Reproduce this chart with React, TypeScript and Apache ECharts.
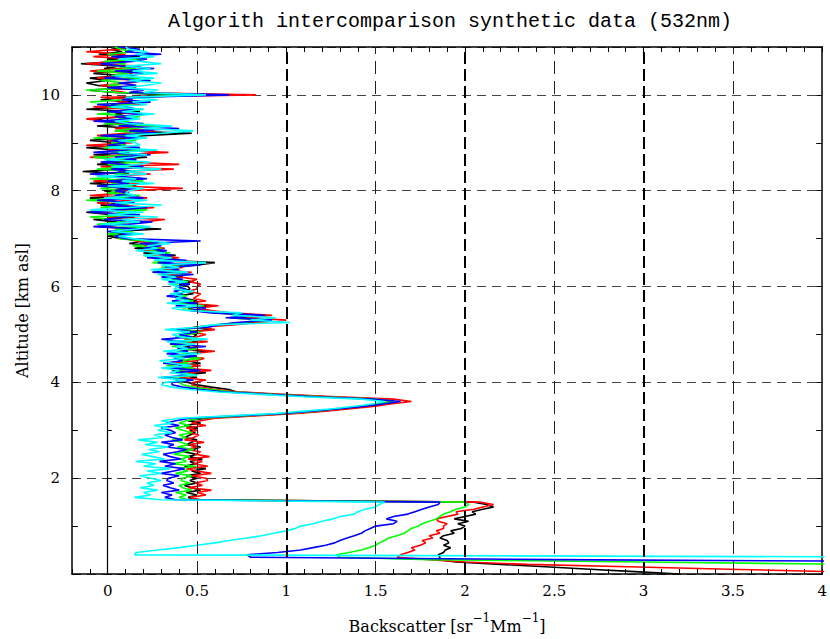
import { useEffect, useRef } from "react";
import * as echarts from "echarts";

const TITLE = "Algorith intercomparison synthetic data (532nm)";
const X_NAME_PARTS = ["Backscatter [sr", "−1", "Mm", "−1", "]"];
const Y_NAME = "Altitude [km asl]";
const X_TICK_LABELS = [0, 0.5, 1, 1.5, 2, 2.5, 3, 3.5, 4];
const Y_TICK_LABELS = [2, 4, 6, 8, 10];
const X_GRID_MAJOR = [1, 2, 3];
const X_GRID_MINOR = [0.5, 1.5, 2.5, 3.5];

// altitude bins (km)
const ALT = [
  0, 0.05, 0.1, 0.15, 0.2, 0.25, 0.3, 0.35, 0.4, 0.45, 0.5, 0.55, 0.6, 0.65, 0.7, 0.75, 0.8, 0.85, 0.9, 0.95,
  1, 1.05, 1.1, 1.15, 1.2, 1.25, 1.3, 1.35, 1.4, 1.45, 1.5, 1.55, 1.6, 1.65, 1.7, 1.75, 1.8, 1.85, 1.9, 1.95,
  2, 2.05, 2.1, 2.15, 2.2, 2.25, 2.3, 2.35, 2.4, 2.45, 2.5, 2.55, 2.6, 2.65, 2.7, 2.75, 2.8, 2.85, 2.9, 2.95,
  3, 3.05, 3.1, 3.15, 3.2, 3.25, 3.3, 3.35, 3.4, 3.45, 3.5, 3.55, 3.6, 3.65, 3.7, 3.75, 3.8, 3.85, 3.9, 3.95,
  4, 4.05, 4.1, 4.15, 4.2, 4.25, 4.3, 4.35, 4.4, 4.45, 4.5, 4.55, 4.6, 4.65, 4.7, 4.75, 4.8, 4.85, 4.9, 4.95,
  5, 5.05, 5.1, 5.15, 5.2, 5.25, 5.3, 5.35, 5.4, 5.45, 5.5, 5.55, 5.6, 5.65, 5.7, 5.75, 5.8, 5.85, 5.9, 5.95,
  6, 6.05, 6.1, 6.15, 6.2, 6.25, 6.3, 6.35, 6.4, 6.45, 6.5, 6.55, 6.6, 6.65, 6.7, 6.75, 6.8, 6.85, 6.9, 6.95,
  7, 7.05, 7.1, 7.15, 7.2, 7.25, 7.3, 7.35, 7.4, 7.45, 7.5, 7.55, 7.6, 7.65, 7.7, 7.75, 7.8, 7.85, 7.9, 7.95,
  8, 8.05, 8.1, 8.15, 8.2, 8.25, 8.3, 8.35, 8.4, 8.45, 8.5, 8.55, 8.6, 8.65, 8.7, 8.75, 8.8, 8.85, 8.9, 8.95,
  9, 9.05, 9.1, 9.15, 9.2, 9.25, 9.3, 9.35, 9.4, 9.45, 9.5, 9.55, 9.6, 9.65, 9.7, 9.75, 9.8, 9.85, 9.9, 9.95,
  10, 10.05, 10.1, 10.15, 10.2, 10.25, 10.3, 10.35, 10.4, 10.45, 10.5, 10.55, 10.6, 10.65, 10.7, 10.75, 10.8, 10.85, 10.9, 10.95, 11,
];

const BLACK = [
  3.2, 2.95, 2.7, 2.45, 2.2, 1.95, 1.85, 1.86, 1.85, 1.88, 1.89, 1.92, 1.88, 1.91, 1.9, 1.86, 1.88, 1.94, 1.92, 1.98,
  2.0, 1.96, 2.02, 1.94, 2.0, 2.06, 2.04, 2.1, 2.16, 2.12, 2.05, 0.48, 0.45, 0.5, 0.44, 0.52, 0.47, 0.43, 0.5, 0.46,
  0.5, 0.44, 0.52, 0.47, 0.55, 0.43, 0.49, 0.46, 0.53, 0.45, 0.5, 0.42, 0.48, 0.52, 0.44, 0.47, 0.5, 0.43, 0.46, 0.49,
  0.46, 0.5, 0.43, 0.52, 0.45, 0.55, 0.78, 1.02, 1.18, 1.32, 1.44, 1.52, 1.6, 1.5, 1.22, 0.95, 0.72, 0.68, 0.58, 0.5,
  0.45, 0.38, 0.5, 0.42, 0.55, 0.36, 0.47, 0.4, 0.52, 0.44, 0.38, 0.49, 0.43, 0.56, 0.4, 0.46, 0.35, 0.5, 0.44, 0.48,
  0.5, 0.42, 0.58, 0.48, 0.62, 0.8, 0.9, 0.72, 0.85, 0.6, 0.54, 0.45, 0.58, 0.4, 0.5, 0.44, 0.38, 0.48, 0.42, 0.46,
  0.45, 0.4, 0.48, 0.36, 0.42, 0.3, 0.44, 0.28, 0.38, 0.5, 0.6, 0.32, 0.26, 0.38, 0.2, 0.3, 0.15, 0.28, 0.12, 0.2,
  0.08, 0.0, 0.1, 0.02, 0.3, -0.05, 0.12, 0.04, -0.08, 0.15, 0.02, -0.12, 0.08, 0.18, -0.04, 0.1, 0.0, -0.1, 0.14, 0.05,
  -0.02, 0.1, 0.16, -0.1, 0.06, 0.2, 0.0, 0.12, -0.14, 0.08, 0.18, -0.06, 0.1, 0.0, 0.22, -0.08, 0.12, 0.04, -0.12, 0.1,
  0.06, -0.1, 0.12, 0.2, 0.47, 0.04, 0.16, -0.06, 0.1, 0.0, -0.08, 0.12, 0.04, 0.18, -0.12, 0.08, 0.02, 0.14, -0.04, 0.1,
  0.35, 0.04, -0.1, 0.12, -0.06, -0.12, 0.0, -0.1, 0.08, -0.08, 0.14, -0.02, 0.06, -0.15, 0.1, 0.0, 0.18, -0.05, 0.08, 0.02, 0.1,
];

const RED = [
  4.6, 4.05, 3.48, 2.91, 2.35, 2.0, 1.8, 1.62, 1.64, 1.68, 1.72, 1.7, 1.75, 1.78, 1.76, 1.82, 1.8, 1.86, 1.84, 1.88,
  1.88, 1.9, 1.85, 1.84, 1.9, 1.96, 1.95, 2.05, 2.1, 2.16, 2.08, 0.52, 0.46, 0.55, 0.5, 0.58, 0.45, 0.53, 0.49, 0.56,
  0.55, 0.47, 0.58, 0.5, 0.44, 0.56, 0.48, 0.53, 0.45, 0.57, 0.49, 0.52, 0.44, 0.5, 0.46, 0.54, 0.43, 0.48, 0.51, 0.45,
  0.5, 0.44, 0.55, 0.47, 0.52, 0.6, 0.82, 1.06, 1.22, 1.36, 1.5, 1.58, 1.7, 1.6, 1.28, 0.98, 0.74, 0.6, 0.52, 0.47,
  0.48, 0.55, 0.4, 0.5, 0.45, 0.58, 0.42, 0.52, 0.37, 0.49, 0.54, 0.41, 0.47, 0.6, 0.44, 0.51, 0.39, 0.56, 0.43, 0.5,
  0.55, 0.46, 0.6, 0.52, 0.7, 0.84, 1.0, 0.78, 0.92, 0.68, 0.58, 0.5, 0.62, 0.44, 0.55, 0.48, 0.5, 0.52, 0.45, 0.5,
  0.5, 0.52, 0.46, 0.5, 0.4, 0.35, 0.47, 0.3, 0.42, 0.36, 0.5, 0.28, 0.4, 0.22, 0.34, 0.18, 0.32, 0.2, 0.26, 0.16,
  0.12, 0.04, 0.16, 0.06, 0.1, -0.02, 0.08, 0.2, 0.32, 0.0, 0.14, -0.08, 0.1, 0.26, 0.03, -0.06, 0.12, 0.22, -0.1, 0.08,
  0.1, 0.42, 0.04, 0.18, -0.08, 0.12, 0.02, 0.24, 0.06, 0.37, -0.04, 0.4, 0.1, 0.16, -0.1, 0.08, 0.34, 0.0, 0.14, -0.12,
  0.14, 0.0, 0.2, -0.06, 0.1, 0.26, 0.04, 0.16, 0.08, -0.02, -0.12, 0.1, 0.18, 0.02, 0.12, -0.08, 0.2, 0.06, 0.14, -0.04,
  0.83, 0.1, 0.02, 0.16, -0.04, 0.12, 0.2, -0.06, 0.08, 0.14, -0.1, 0.06, 0.18, -0.12, 0.04, 0.16, -0.08, 0.1, -0.12, 0.06, 0.12,
];

const GREEN = [
  8, 7, 6, 5, 4.2, 3.0, 1.8, 1.3, 1.28, 1.35, 1.42, 1.46, 1.5, 1.52, 1.55, 1.57, 1.62, 1.66, 1.68, 1.7,
  1.74, 1.76, 1.8, 1.84, 1.86, 1.88, 1.92, 1.95, 2.0, 2.02, 2.0, 0.45, 0.4, 0.44, 0.38, 0.47, 0.42, 0.4, 0.46, 0.41,
  0.42, 0.47, 0.38, 0.45, 0.4, 0.49, 0.36, 0.44, 0.41, 0.46, 0.37, 0.43, 0.48, 0.39, 0.45, 0.41, 0.36, 0.44, 0.4, 0.47,
  0.42, 0.38, 0.46, 0.4, 0.44, 0.52, 0.76, 1.0, 1.16, 1.3, 1.42, 1.52, 1.6, 1.5, 1.2, 0.92, 0.7, 0.58, 0.48, 0.42,
  0.4, 0.46, 0.35, 0.5, 0.42, 0.38, 0.48, 0.33, 0.45, 0.4, 0.52, 0.37, 0.44, 0.39, 0.5, 0.36, 0.46, 0.41, 0.53, 0.38,
  0.45, 0.52, 0.4, 0.55, 0.6, 0.76, 0.86, 0.68, 0.8, 0.62, 0.5, 0.42, 0.54, 0.38, 0.48, 0.4, 0.44, 0.38, 0.46, 0.4,
  0.42, 0.36, 0.45, 0.38, 0.33, 0.44, 0.28, 0.4, 0.3, 0.46, 0.25, 0.38, 0.3, 0.2, 0.35, 0.24, 0.3, 0.14, 0.28, 0.22,
  0.06, 0.1, 0.0, 0.14, 0.04, 0.2, -0.06, 0.1, 0.02, -0.1, 0.16, 0.05, 0.22, -0.04, 0.08, 0.14, -0.12, 0.06, 0.18, 0.0,
  0.08, -0.04, 0.14, 0.02, 0.2, -0.1, 0.1, 0.04, 0.16, -0.06, 0.12, 0.0, 0.18, 0.06, -0.08, 0.14, 0.02, 0.2, -0.02, 0.1,
  0.02, 0.16, -0.08, 0.1, 0.22, 0.04, 0.14, 0.3, -0.02, 0.12, 0.06, 0.18, -0.06, 0.1, 0.2, 0.0, 0.14, -0.1, 0.08, 0.16,
  0.5, 0.06, -0.12, 0.14, 0.0, 0.1, -0.04, 0.18, 0.02, 0.12, -0.06, 0.16, 0.04, 0.1, -0.02, 0.2, 0.06, 0.0, 0.14, 0.08, 0.04,
];

const BLUE = [
  10, 9, 8, 7, 6, 5, 2.5, 0.8, 0.78, 0.95, 1.08, 1.15, 1.22, 1.27, 1.3, 1.34, 1.38, 1.42, 1.44, 1.47,
  1.5, 1.6, 1.62, 1.56, 1.6, 1.68, 1.72, 1.76, 1.8, 1.85, 1.86, 0.38, 0.32, 0.36, 0.3, 0.4, 0.35, 0.31, 0.37, 0.33,
  0.34, 0.4, 0.3, 0.37, 0.43, 0.32, 0.38, 0.29, 0.41, 0.35, 0.31, 0.39, 0.44, 0.33, 0.37, 0.3, 0.42, 0.36, 0.32, 0.38,
  0.35, 0.3, 0.4, 0.33, 0.38, 0.46, 0.72, 0.98, 1.14, 1.3, 1.44, 1.54, 1.64, 1.48, 1.16, 0.9, 0.66, 0.52, 0.42, 0.36,
  0.36, 0.48, 0.3, 0.44, 0.38, 0.52, 0.34, 0.46, 0.31, 0.42, 0.37, 0.5, 0.33, 0.45, 0.39, 0.55, 0.35, 0.43, 0.3, 0.47,
  0.4, 0.5, 0.35, 0.56, 0.62, 0.72, 0.92, 0.66, 0.88, 0.58, 0.46, 0.55, 0.38, 0.5, 0.36, 0.45, 0.33, 0.42, 0.37, 0.44,
  0.38, 0.46, 0.34, 0.42, 0.3, 0.48, 0.25, 0.4, 0.32, 0.52, 0.28, 0.44, 0.22, 0.36, 0.26, 0.33, 0.2, 0.3, 0.18, 0.52,
  0.1, 0.04, 0.14, 0.0, 0.2, -0.08, 0.12, 0.25, -0.02, 0.1, 0.18, -0.1, 0.06, 0.22, 0.0, 0.15, -0.06, 0.2, 0.04, 0.12,
  0.04, 0.16, -0.06, 0.12, 0.0, 0.22, 0.06, -0.1, 0.14, 0.02, 0.2, 0.08, -0.04, 0.16, 0.04, 0.24, -0.08, 0.1, 0.18, 0.0,
  0.1, 0.02, 0.18, -0.04, 0.28, 0.12, 0.4, 0.06, 0.2, -0.08, 0.14, 0.04, 0.22, 0.0, 0.16, 0.1, -0.06, 0.24, 0.08, 0.18,
  0.68, 0.12, 0.2, 0.0, 0.16, 0.06, 0.24, -0.02, 0.12, 0.2, 0.04, 0.26, 0.08, -0.04, 0.14, 0.22, 0.02, 0.3, 0.1, 0.18, 0.06,
];

const CYAN = [
  12, 11, 10, 9, 8, 7, 6, 5, 0.15, 0.16, 0.28, 0.4, 0.5, 0.6, 0.68, 0.78, 0.86, 0.93, 1.0, 1.05,
  1.08, 1.15, 1.2, 1.26, 1.3, 1.38, 1.4, 1.44, 1.5, 1.52, 1.55, 0.3, 0.15, 0.24, 0.2, 0.28, 0.18, 0.26, 0.22, 0.3,
  0.24, 0.18, 0.3, 0.22, 0.35, 0.2, 0.27, 0.16, 0.32, 0.25, 0.19, 0.29, 0.23, 0.34, 0.21, 0.28, 0.17, 0.31, 0.26, 0.36,
  0.28, 0.34, 0.26, 0.36, 0.3, 0.4, 0.68, 0.94, 1.1, 1.26, 1.38, 1.48, 1.55, 1.42, 1.1, 0.86, 0.62, 0.46, 0.36, 0.3,
  0.32, 0.44, 0.28, 0.5, 0.35, 0.4, 0.3, 0.47, 0.36, 0.29, 0.43, 0.34, 0.52, 0.31, 0.45, 0.38, 0.49, 0.33, 0.56, 0.4,
  0.36, 0.46, 0.32, 0.5, 0.58, 1.02, 0.8, 0.94, 0.7, 0.75, 0.44, 0.36, 0.52, 0.33, 0.46, 0.38, 0.42, 0.35, 0.48, 0.37,
  0.4, 0.34, 0.44, 0.3, 0.38, 0.28, 0.45, 0.24, 0.4, 0.3, 0.55, 0.26, 0.36, 0.2, 0.32, 0.16, 0.28, 0.22, 0.35, 0.25,
  0.14, 0.06, 0.2, 0.02, 0.16, 0.24, -0.04, 0.18, 0.08, 0.28, 0.0, 0.2, -0.1, 0.12, 0.3, 0.04, 0.22, -0.02, 0.16, 0.1,
  0.12, 0.2, 0.0, 0.26, 0.08, 0.16, -0.06, 0.22, 0.1, 0.3, 0.02, 0.18, 0.24, -0.02, 0.14, 0.22, 0.06, 0.28, 0.0, 0.18,
  0.16, 0.06, 0.22, 0.1, 0.3, 0.48, 0.2, 0.36, 0.12, 0.04, 0.18, 0.1, 0.26, 0.08, 0.2, 0.02, 0.22, 0.14, 0.28, 0.1,
  0.55, 0.2, 0.28, 0.08, 0.22, 0.3, 0.12, 0.26, 0.04, 0.28, 0.14, 0.24, 0.1, 0.3, 0.18, 0.06, 0.26, 0.16, 0.22, 0.12, 0.1,
];

const PROFILES = [
  { name: "black", values: BLACK, color: "#000000" },
  { name: "red", values: RED, color: "#ff0000" },
  { name: "green", values: GREEN, color: "#00ff00" },
  { name: "blue", values: BLUE, color: "#0000ff" },
  { name: "cyan", values: CYAN, color: "#00ffff" },
];

const FONT = "DejaVu Serif";
const TITLE_FONT = "Liberation Mono";

export default function App() {
  const ref = useRef<HTMLDivElement>(null);
  useEffect(() => {
    if (!ref.current) return;
    const chart = echarts.init(ref.current, null, { renderer: "svg" });
    const xFmt = (v: number) => {
      const r = Math.round(v * 10) / 10;
      return X_TICK_LABELS.includes(r) ? String(r) : "";
    };
    const yFmt = (v: number) => (Y_TICK_LABELS.includes(v) ? String(v) : "");
    const labelStyle = { color: "#000", fontFamily: FONT, fontSize: 15 };
    const axisLine = { show: true, onZero: false, lineStyle: { color: "#000", width: 1.5 } };
    const xCommon = {
      type: "value" as const,
      min: -0.2,
      max: 4,
      interval: 0.1,
      axisLine,
      axisTick: { show: true, inside: true, length: 5, lineStyle: { color: "#000", width: 1 } },
      splitLine: { show: false },
    };
    const yCommon = {
      type: "value" as const,
      min: 0,
      max: 11,
      interval: 2,
      axisLine,
      axisTick: { show: true, inside: true, length: 6, lineStyle: { color: "#000", width: 1 } },
      minorTick: { show: true, splitNumber: 2, length: 6, lineStyle: { color: "#000", width: 1 } },
    };
    const gridLines = [
      ...X_GRID_MAJOR.map((v) => ({
        xAxis: v,
        lineStyle: { color: "#000", width: 2, type: [12, 5] },
      })),
      ...X_GRID_MINOR.map((v) => ({
        xAxis: v,
        lineStyle: { color: "#222", width: 1, type: [13, 7] },
      })),
    ];
    const xName =
      `{a|${X_NAME_PARTS[0]}}{s|${X_NAME_PARTS[1]}}{a|${X_NAME_PARTS[2]}}{s|${X_NAME_PARTS[3]}}{a|${X_NAME_PARTS[4]}}`;
    const option: any = {
      animation: false,
      backgroundColor: "#ffffff",
      grid: { left: 72, right: 6, top: 47, bottom: 60, containLabel: false },
      graphic: [
        {
          type: "text",
          x: 450,
          y: 21,
          style: {
            text: TITLE,
            textAlign: "center",
            textVerticalAlign: "middle",
            fontFamily: TITLE_FONT,
            fontSize: 20,
            fill: "#000",
          },
        },
      ],
      xAxis: [
        {
          ...xCommon,
          position: "bottom",
          axisLabel: { ...labelStyle, formatter: xFmt, margin: 9, showMinLabel: true, showMaxLabel: true },
          name: xName,
          nameLocation: "middle",
          nameGap: 38,
          nameTextStyle: {
            color: "#000",
            fontFamily: FONT,
            fontSize: 16,
            rich: {
              a: { fontFamily: FONT, fontSize: 16, color: "#000", lineHeight: 22, verticalAlign: "bottom" },
              s: { fontFamily: FONT, fontSize: 12, color: "#000", lineHeight: 22, verticalAlign: "top", padding: [0, 0, 0, 0] },
            },
          },
        },
        { ...xCommon, position: "top", axisLabel: { show: false } },
      ],
      yAxis: [
        {
          ...yCommon,
          position: "left",
          axisLabel: { ...labelStyle, formatter: yFmt, margin: 12 },
          splitLine: { show: true, lineStyle: { color: "#444", width: 1.2, type: [9, 6] } },
          name: Y_NAME,
          nameLocation: "middle",
          nameGap: 32,
          nameRotate: 90,
          nameTextStyle: { color: "#000", fontFamily: FONT, fontSize: 16 },
        },
        {
          ...yCommon,
          position: "right",
          axisLabel: { show: false },
          splitLine: { show: false },
        },
        {
          type: "value",
          min: 0,
          max: 11,
          interval: 1,
          axisLine: { show: true, onZero: true, onZeroAxisIndex: 0, lineStyle: { color: "#000", width: 1.2 } },
          axisTick: { show: true, inside: false, length: 4, lineStyle: { color: "#000", width: 1 } },
          axisLabel: { show: false },
          splitLine: { show: false },
        },
      ],
      series: [
        {
          type: "line",
          name: "grid",
          data: [],
          silent: true,
          markLine: {
            silent: true,
            symbol: ["none", "none"],
            label: { show: false },
            animation: false,
            data: gridLines,
          },
        },
        ...PROFILES.map((p) => ({
          type: "line",
          name: p.name,
          data: ALT.map((a, i) => [p.values[i], a]),
          showSymbol: false,
          symbol: "none",
          clip: true,
          lineStyle: { color: p.color, width: 1.6 },
          itemStyle: { color: p.color },
          silent: true,
        })),
      ],
    };
    chart.setOption(option);
    return () => chart.dispose();
  }, []);
  return (
    <div
      ref={ref}
      style={{ position: "fixed", left: 0, top: 0, width: 830, height: 639, background: "#fff" }}
    />
  );
}
